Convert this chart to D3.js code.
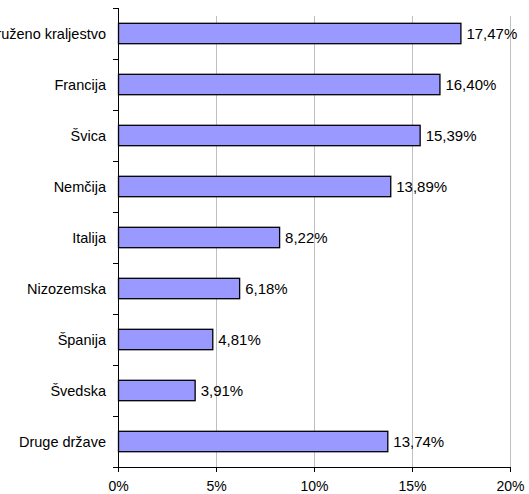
<!DOCTYPE html>
<html>
<head>
<meta charset="utf-8">
<script src="https://cdn.jsdelivr.net/npm/d3@7"></script>
<style>
  html, body { margin: 0; padding: 0; background: #fff; }
  svg text { font-family: Arial, "Liberation Sans", sans-serif; fill: #000; }
</style>
</head>
<body>
<svg id="chart" width="529" height="494"></svg>
<script>
// data
var countries = ["Združeno kraljestvo", "Francija", "Švica", "Nemčija", "Italija",
                 "Nizozemska", "Španija", "Švedska", "Druge države"];
var shares    = [17.47, 16.40, 15.39, 13.89, 8.22, 6.18, 4.81, 3.91, 13.74];
var xTicks    = [0, 5, 10, 15, 20];

var margin = {top: 8, left: 118, right: 19, bottom: 27};
var width  = 529 - margin.left - margin.right;
var height = 494 - margin.top - margin.bottom;

var svg = d3.select("#chart");
var g = svg.append("g")
    .attr("transform", "translate(" + margin.left + "," + margin.top + ")");

var x = d3.scaleLinear().domain([0, 20]).range([0, width]);
var y = d3.scaleBand().domain(countries).range([0, height]).paddingInner(0.6).paddingOuter(0.3);
var step = y.step();

function fmt(v) { return v.toFixed(2).replace(".", ",") + "%"; }

// vertical gridlines
g.selectAll(".grid").data(xTicks.slice(1)).enter().append("line")
    .attr("x1", function (d) { return x(d) + 0.5; })
    .attr("x2", function (d) { return x(d) + 0.5; })
    .attr("y1", 8).attr("y2", height)
    .attr("stroke", "#c0c0c0").attr("stroke-width", 1);

// bars
g.selectAll(".bar").data(shares).enter().append("rect")
    .attr("x", 0.5)
    .attr("y", function (d, i) { return y(countries[i]); })
    .attr("width", function (d) { return x(d); })
    .attr("height", y.bandwidth())
    .attr("fill", "#9999ff")
    .attr("stroke", "#000").attr("stroke-width", 1.3);

// value labels
g.selectAll(".val").data(shares).enter().append("text")
    .attr("x", function (d) { return x(d) + 6; })
    .attr("y", function (d, i) { return y(countries[i]) + y.bandwidth() / 2; })
    .attr("dy", "0.36em")
    .style("font-size", "15px")
    .text(fmt);

// y axis with ticks between categories
g.append("line").attr("x1", 0.5).attr("x2", 0.5).attr("y1", 0).attr("y2", height)
    .attr("stroke", "#000");
g.selectAll(".ytick").data(d3.range(countries.length + 1)).enter().append("line")
    .attr("x1", -5).attr("x2", 0.5)
    .attr("y1", function (i) { return Math.round(i * step) + 0.5; })
    .attr("y2", function (i) { return Math.round(i * step) + 0.5; })
    .attr("stroke", "#000");
g.selectAll(".cat").data(countries).enter().append("text")
    .attr("x", -12)
    .attr("y", function (d) { return y(d) + y.bandwidth() / 2; })
    .attr("dy", "0.36em")
    .attr("text-anchor", "end")
    .style("font-size", "14.5px")
    .text(function (d) { return d; });

// x axis
var xAxis = d3.axisBottom(x).tickValues(xTicks).tickSize(5).tickPadding(9)
    .tickFormat(function (d) { return d + "%"; });
var ax = g.append("g").attr("transform", "translate(0," + height + ")").call(xAxis);
ax.select(".domain").attr("d", "M0.5,0.5H" + (width + 0.5)).attr("stroke", "#000");
ax.selectAll(".tick line").attr("stroke", "#000");
ax.selectAll("text").style("font-size", "14px")
    .style("font-family", "Arial, 'Liberation Sans', sans-serif");
</script>
</body>
</html>
